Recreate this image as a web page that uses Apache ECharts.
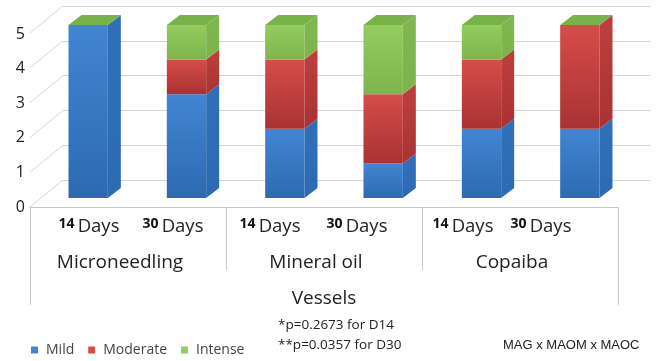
<!DOCTYPE html>
<html lang="en">
<head>
    <meta charset="UTF-8">
    <title>Vessels</title>
    <style>
        html, body { margin: 0; padding: 0; background: #fff; }
        #main { width: 656px; height: 361px; }
    </style>
</head>
<body>
    <div id="main"></div>
</body>
<script src="https://cdn.jsdelivr.net/npm/echarts@6/dist/echarts.min.js"></script>
<script>
    // data
    var days = ['14 Days', '30 Days', '14 Days', '30 Days', '14 Days', '30 Days'];
    var groups = ['Microneedling', 'Mineral oil', 'Copaiba'];
    var axisTitle = ['Vessels'];
    var yTicks = [0, 1, 2, 3, 4, 5];
    var mild = [5, 3, 2, 1, 2, 2];
    var moderate = [0, 1, 2, 2, 2, 3];
    var intense = [0, 1, 1, 2, 1, 0];

    var font = '"Open Sans", "Noto Sans", sans-serif';
    var depth = [13, -10];
    // nudges for the day labels (px, + = right), they sit unevenly in the original
    var dayShift = [10, -4, -5, -16, -8, -28];

    var colors = {
        Mild: { top: '#4285d2', bottom: '#2d6ab2', side: '#3170b9', cap: '#5a95d8' },
        Moderate: { top: '#d54d4a', bottom: '#a93233', side: '#bf3f3e', cap: '#dc6461' },
        Intense: { top: '#94cc60', bottom: '#7db44c', side: '#7fb650', cap: '#78b445' }
    };

    // stacked rows: [category, base, value, isTop]
    function stackRows(values, bases, isTop) {
        return values.map(function(v, i) {
            return [i, bases[i], v, isTop ? 1 : 0];
        });
    }
    var base1 = mild.map(function() { return 0; });
    var base2 = mild.slice();
    var base3 = mild.map(function(v, i) { return v + moderate[i]; });

    function barRender(c) {
        return function(params, api) {
            var cat = api.value(0), b = api.value(1), v = api.value(2), isTop = api.value(3);
            var p0 = api.coord([cat, b]);
            var p1 = api.coord([cat, b + v]);
            var w = api.size([1, 0])[0] * 0.4;
            var x0 = p0[0] - w / 2, x1 = p0[0] + w / 2;
            var children = [];
            if (v > 0) {
                children.push({
                    type: 'rect',
                    shape: { x: x0, y: p1[1], width: w, height: p0[1] - p1[1] },
                    style: {
                        fill: new echarts.graphic.LinearGradient(0, 0, 0, 1, [
                            { offset: 0, color: c.top },
                            { offset: 1, color: c.bottom }
                        ])
                    }
                });
                children.push({
                    type: 'polygon',
                    shape: { points: [[x1, p1[1]], [x1 + depth[0], p1[1] + depth[1]], [x1 + depth[0], p0[1] + depth[1]], [x1, p0[1]]] },
                    style: {
                        fill: new echarts.graphic.LinearGradient(0, 0, 0, 1, [
                            { offset: 0, color: c.side },
                            { offset: 1, color: c.bottom }
                        ])
                    }
                });
            }
            if (isTop) {
                children.push({
                    type: 'polygon',
                    shape: { points: [[x0, p1[1]], [x0 + depth[0], p1[1] + depth[1]], [x1 + depth[0], p1[1] + depth[1]], [x1, p1[1]]] },
                    style: { fill: c.cap }
                });
            }
            return { type: 'group', children: children };
        };
    }

    function barSeries(name, rows) {
        return {
            name: name,
            type: 'custom',
            xAxisIndex: 1,
            yAxisIndex: 1,
            itemStyle: { color: colors[name].top },
            renderItem: barRender(colors[name]),
            data: rows
        };
    }

    var dayItems = days.map(function(d, i) {
        var s = dayShift[i];
        return {
            value: d,
            textStyle: { padding: s >= 0 ? [0, 0, 0, 2 * s] : [0, -2 * s, 0, 0] }
        };
    });

    var myChart = echarts.init(document.getElementById('main'));
    var boxGrid = { left: 30, right: 38, top: 34, height: 173 };
    myChart.setOption({
        animation: false,
        textStyle: { fontFamily: font },
        grid: [
            { left: 63, right: 6, top: 6, height: 174 }, // back wall
            { left: 39, right: 27, top: 25, height: 173 }, // bars
            boxGrid, // front labels + days
            boxGrid, // groups
            boxGrid // title
        ],
        legend: {
            left: 26,
            top: 338,
            itemWidth: 7,
            itemHeight: 7,
            itemGap: 14,
            icon: 'rect',
            data: ['Mild', 'Moderate', 'Intense'],
            textStyle: { fontFamily: font, fontSize: 14, color: '#444', padding: [0, 0, 0, 3] }
        },
        xAxis: [{
            type: 'value', gridIndex: 0, min: 0, max: 1, show: false
        }, {
            type: 'category', gridIndex: 1, data: days, show: false
        }, {
            type: 'category',
            gridIndex: 2,
            data: dayItems,
            axisLine: { lineStyle: { color: '#c8c8c8' } },
            axisTick: { show: false },
            axisLabel: {
                interval: 0,
                margin: 10,
                formatter: function(v) {
                    var p = v.split(' ');
                    return '{n|' + p[0] + '} {d|' + p[1] + '}';
                },
                rich: {
                    n: { fontFamily: font, fontSize: 14, fontWeight: 'bold', color: '#111', padding: [0, 0, 6, 0] },
                    d: { fontFamily: font, fontSize: 18.5, color: '#222' }
                }
            }
        }, {
            type: 'category',
            gridIndex: 3,
            data: groups,
            axisLine: { show: false },
            axisTick: { show: true, length: 63, lineStyle: { color: '#c8c8c8' } },
            axisLabel: { interval: 0, margin: 46, fontSize: 19, color: '#222', padding: [0, 16, 0, 0] }
        }, {
            type: 'category',
            gridIndex: 4,
            data: axisTitle,
            axisLine: { show: false },
            axisTick: { show: true, length: 98, lineStyle: { color: '#c8c8c8' } },
            axisLabel: { margin: 82, fontSize: 19, color: '#222' }
        }],
        yAxis: [{
            type: 'value', gridIndex: 0, min: 0, max: 5, interval: 1,
            axisLabel: { show: false }, axisLine: { show: false }, axisTick: { show: false },
            splitLine: { lineStyle: { color: '#d4d4d4' } }
        }, {
            type: 'value', gridIndex: 1, min: 0, max: 5, interval: 1, show: false
        }, {
            type: 'value', gridIndex: 2, min: 0, max: 5, interval: 1,
            axisLine: { show: false }, axisTick: { show: false }, splitLine: { show: false },
            axisLabel: { margin: 5, fontSize: 16, color: '#222' }
        }, {
            type: 'value', gridIndex: 3, show: false
        }, {
            type: 'value', gridIndex: 4, show: false
        }],
        graphic: [{
            type: 'text', left: 278, top: 318,
            style: { text: '*p=0.2673 for D14', fontFamily: font, fontSize: 13.5, fill: '#222' }
        }, {
            type: 'text', left: 278, top: 338,
            style: { text: '**p=0.0357 for D30', fontFamily: font, fontSize: 13.5, fill: '#222' }
        }, {
            type: 'text', left: 503, top: 339,
            style: { text: 'MAG x MAOM x MAOC', fontFamily: '"Liberation Sans", Arial, sans-serif', fontSize: 13, fill: '#222' }
        }],
        series: [{
            // side wall lines running from front labels to the back wall
            type: 'custom',
            xAxisIndex: 0,
            yAxisIndex: 0,
            silent: true,
            z: 1,
            renderItem: function(params, api) {
                var p = api.coord([0, api.value(0)]);
                return {
                    type: 'line',
                    shape: { x1: p[0] - 33, y1: p[1] + 27, x2: p[0], y2: p[1] },
                    style: { stroke: '#d4d4d4', lineWidth: 1 }
                };
            },
            data: yTicks.map(function(v) { return [v]; })
        },
            barSeries('Mild', stackRows(mild, base1, false)),
            barSeries('Moderate', stackRows(moderate, base2, false)),
            barSeries('Intense', stackRows(intense, base3, true))
        ]
    });
</script>
</html>
